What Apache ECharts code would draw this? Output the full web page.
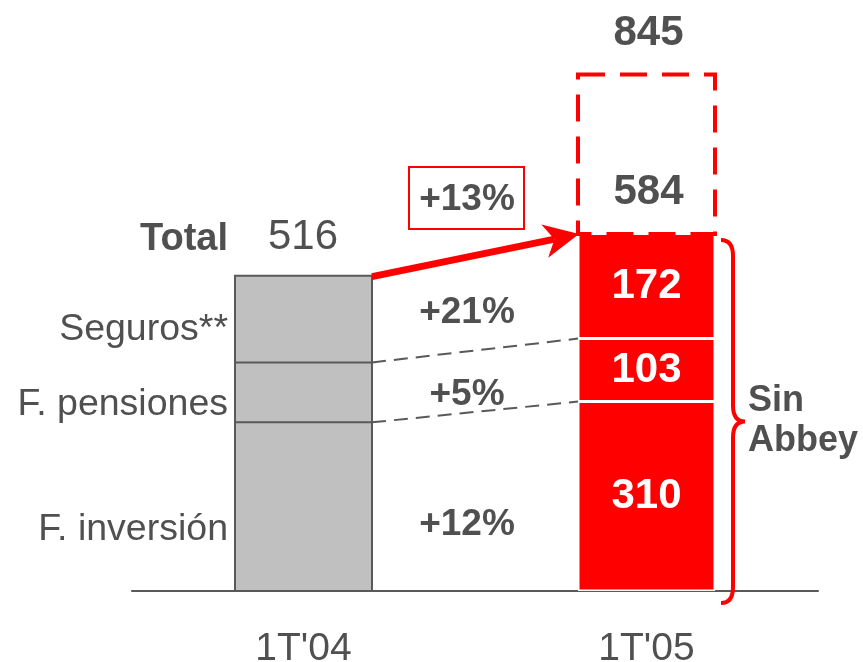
<!DOCTYPE html>
<html>
<head>
<meta charset="utf-8">
<script src="https://cdn.jsdelivr.net/npm/echarts@6/dist/echarts.min.js"></script>
<style>
  html, body { margin: 0; padding: 0; background: #fff; }
  #chart { width: 863px; height: 662px; }
</style>
</head>
<body>
<div id="chart"></div>
<script>
// Periods on the x axis
const periods = ["1T'04", "1T'05"];
// Stacked components (millones)
const fInversion = [276, 310];
const fPensiones = [98, 103];
const seguros = [142, 172];
// Totals shown above the bars
const totalSinAbbey = [516, 584];
const totalConAbbey = 845;
// Growth rates between periods
const growthTotal = '+13%';
const growthSeguros = '+21%';
const growthPensiones = '+5%';
const growthInversion = '+12%';

const FONT = '"Liberation Sans", Arial, Helvetica, sans-serif';
const TXT = '#505050';
const RED = '#ff0000';
const GREY = '#c0c0c0';
const EDGE = '#595959';
const BAR_W = 137;

const chart = echarts.init(document.getElementById('chart'), null, { renderer: 'canvas' });

function segItems(values) {
  return values.map((v, i) => ({
    value: v,
    itemStyle: i === 0
      ? { color: GREY, borderWidth: 0 }
      : { color: RED, borderColor: '#ffffff', borderWidth: 1.5 },
    label: {
      show: i === 1,
      position: 'inside',
      formatter: String(v),
      color: '#ffffff',
      fontFamily: FONT,
      fontWeight: 'bold',
      fontSize: 42
    }
  }));
}

function barStack(name, values) {
  return {
    name: name,
    type: 'bar',
    stack: 'total',
    barWidth: BAR_W,
    data: segItems(values),
    z: 2
  };
}

// Outline of the grey bar, dashed links between segment boundaries, and the growth arrow
const connectorSeries = {
  type: 'custom',
  clip: false,
  z: 3,
  data: [0],
  renderItem: function (params, api) {
    const children = [];
    const levels = [
      [fInversion[0], fInversion[1]],
      [fInversion[0] + fPensiones[0], fInversion[1] + fPensiones[1]]
    ];
    const g0 = api.coord([0, 0]);
    const gTop = api.coord([0, fInversion[0] + fPensiones[0] + seguros[0]]);
    const gl = g0[0] - BAR_W / 2, gr = g0[0] + BAR_W / 2;
    children.push({
      type: 'rect',
      shape: { x: gl, y: gTop[1], width: BAR_W, height: g0[1] - gTop[1] },
      style: { fill: 'none', stroke: EDGE, lineWidth: 2 }
    });
    levels.forEach(([a, b]) => {
      const p0 = api.coord([0, a]);
      const p1 = api.coord([1, b]);
      children.push({
        type: 'line',
        shape: { x1: gl, y1: p0[1], x2: gr, y2: p0[1] },
        style: { stroke: EDGE, lineWidth: 2 }
      });
      children.push({
        type: 'line',
        shape: { x1: gr, y1: p0[1], x2: p1[0] - BAR_W / 2, y2: p1[1] },
        style: { stroke: EDGE, lineWidth: 2, lineDash: [14, 8] }
      });
    });
    // Red arrow from total to total
    const s = api.coord([0, totalSinAbbey[0]]);
    const e = api.coord([1, totalSinAbbey[1]]);
    const x0 = s[0] + BAR_W / 2, y0 = s[1] + 1;
    const x1 = e[0] - BAR_W / 2 + 1, y1 = e[1];
    const dx = x1 - x0, dy = y1 - y0;
    const len = Math.sqrt(dx * dx + dy * dy);
    const ux = dx / len, uy = dy / len;
    const nx = -uy, ny = ux;
    const headLen = 35, headHalf = 17, notch = 10;
    const bx = x1 - ux * headLen, by = y1 - uy * headLen;
    const mx = x1 - ux * (headLen - notch), my = y1 - uy * (headLen - notch);
    children.push({
      type: 'line',
      shape: { x1: x0, y1: y0, x2: mx, y2: my },
      style: { stroke: RED, lineWidth: 7 }
    });
    children.push({
      type: 'polygon',
      shape: { points: [[x1, y1], [bx + nx * headHalf, by + ny * headHalf], [mx, my], [bx - nx * headHalf, by - ny * headHalf]] },
      style: { fill: RED }
    });
    return { type: 'group', children: children };
  }
};

// Dashed box up to the total including Abbey, plus the brace
const abbeySeries = {
  type: 'custom',
  clip: false,
  z: 4,
  data: [0],
  renderItem: function (params, api) {
    const top = api.coord([1, totalConAbbey]);
    const bot = api.coord([1, totalSinAbbey[1]]);
    const base = api.coord([1, 0]);
    const left = top[0] - BAR_W / 2;
    const right = top[0] + BAR_W / 2;
    const children = [];
    children.push({
      type: 'rect',
      shape: { x: left, y: top[1], width: BAR_W, height: bot[1] - top[1] },
      style: { fill: 'none', stroke: RED, lineWidth: 4, lineDash: [27, 15] }
    });
    children.push({
      type: 'text',
      style: {
        text: String(totalConAbbey), x: top[0] + 2, y: top[1] - 41,
        font: 'bold 42px ' + FONT, fill: TXT, align: 'center', verticalAlign: 'middle'
      }
    });
    children.push({
      type: 'text',
      style: {
        text: String(totalSinAbbey[1]), x: top[0] + 2, y: bot[1] - 42,
        font: 'bold 42px ' + FONT, fill: TXT, align: 'center', verticalAlign: 'middle'
      }
    });
    // Brace
    const bx0 = right + 6, bx1 = right + 18, bxm = right + 30;
    const yT = bot[1] + 6, yB = base[1] + 12;
    const yM = (yT + yB) / 2;
    const r = 16;
    const d = 'M' + bx0 + ' ' + yT +
      ' Q' + bx1 + ' ' + yT + ' ' + bx1 + ' ' + (yT + r) +
      ' L' + bx1 + ' ' + (yM - r) +
      ' Q' + bx1 + ' ' + yM + ' ' + bxm + ' ' + yM +
      ' Q' + bx1 + ' ' + yM + ' ' + bx1 + ' ' + (yM + r) +
      ' L' + bx1 + ' ' + (yB - r) +
      ' Q' + bx1 + ' ' + yB + ' ' + bx0 + ' ' + yB;
    children.push({
      type: 'path',
      shape: { pathData: d },
      style: { fill: 'none', stroke: RED, lineWidth: 4 }
    });
    children.push({
      type: 'text',
      style: {
        text: 'Sin\nAbbey', x: bxm + 3, y: yM,
        font: 'bold 36px ' + FONT, fill: TXT, align: 'left', verticalAlign: 'middle',
        lineHeight: 40
      }
    });
    return { type: 'group', children: children };
  }
};

function label(text, x, y, opts) {
  opts = opts || {};
  return {
    type: 'text',
    x: x, y: y,
    z: 10,
    style: {
      text: text,
      font: (opts.bold ? 'bold ' : '') + (opts.size || 37.5) + 'px ' + FONT,
      fill: TXT,
      textAlign: opts.align || 'center',
      textVerticalAlign: 'middle',
      align: opts.align || 'center',
      verticalAlign: 'middle'
    }
  };
}

chart.setOption({
  animation: false,
  backgroundColor: '#ffffff',
  grid: { left: 132, right: 45, top: 41, bottom: 71, outerBoundsMode: 'none', containLabel: false },
  xAxis: {
    type: 'category',
    data: periods,
    axisLine: { lineStyle: { color: EDGE, width: 2 } },
    axisTick: { show: false },
    axisLabel: { color: TXT, fontFamily: FONT, fontSize: 39, margin: 39 }
  },
  yAxis: { type: 'value', min: 0, max: 900, show: false },
  series: [
    barStack('F. inversión', fInversion),
    barStack('F. pensiones', fPensiones),
    barStack('Seguros**', seguros),
    connectorSeries,
    abbeySeries
  ],
  graphic: [
    label('Total', 228, 240, { bold: true, size: 38, align: 'right' }),
    label(String(totalSinAbbey[0]), 303, 237, { size: 42 }),
    label('Seguros**', 228, 330, { align: 'right' }),
    label('F. pensiones', 228, 405, { align: 'right' }),
    label('F. inversión', 228, 530, { align: 'right' }),
    {
      type: 'rect', z: 10,
      shape: { x: 409, y: 167, width: 115, height: 62 },
      style: { fill: '#ffffff', stroke: RED, lineWidth: 2 }
    },
    label(growthTotal, 467, 200, { bold: true, size: 37 }),
    label(growthSeguros, 467, 313, { bold: true, size: 37 }),
    label(growthPensiones, 467, 395, { bold: true, size: 37 }),
    label(growthInversion, 467, 525, { bold: true, size: 37 })
  ]
});
</script>
</body>
</html>
